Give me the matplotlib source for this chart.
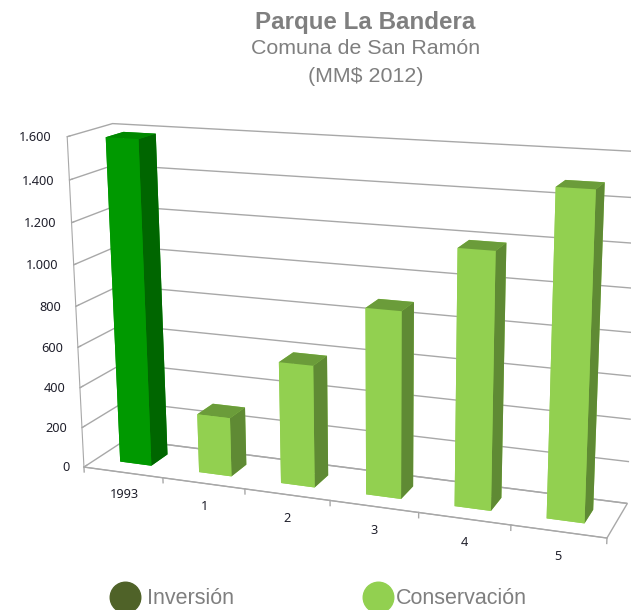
import numpy as np
import matplotlib
matplotlib.use("Agg")
import matplotlib.pyplot as plt
from matplotlib.lines import Line2D

categories = ["1993", "1", "2", "3", "4", "5"]
inversion = [1585, 0, 0, 0, 0, 0]
conservacion = [0, 290, 590, 885, 1190, 1483]
z_ticks = [0, 200, 400, 600, 800, 1000, 1200, 1400, 1600]
z_labels = ["0", "200", "400", "600", "800", "1.000", "1.200", "1.400", "1.600"]

W, H = 631, 610
fig = plt.figure(figsize=(W / 100, H / 100), dpi=100)
ax = fig.add_axes([0, 0, 1, 1], projection="3d")
ax.set_xlim(0, 6, view_margin=0)
ax.set_ylim(0, 1, view_margin=0)
ax.set_zlim(0, 1600, view_margin=0)

# camera matched to the reference's box corners
ax.view_init(elev=15.18645, azim=-68.91894, roll=0.37299)
ax.set_proj_type("persp", focal_length=float(np.exp(-0.75422)))
ax.set_box_aspect((1, float(np.exp(-1.78710)), float(np.exp(-0.46489))))
a, ox, oy = 3514.449, 345.756, 319.080
x0, x1 = ax.viewLim.x0, ax.viewLim.x1
y0, y1 = ax.viewLim.y0, ax.viewLim.y1
ax.set_position([(ox + x0 * a) / W, (H - oy + y0 * a) / H, a * (x1 - x0) / W, a * (y1 - y0) / H])
ax.patch.set_alpha(0)

GRID = "#A8A8A8"
for axis in (ax.xaxis, ax.yaxis, ax.zaxis):
    axis.set_pane_color((1, 1, 1, 1))
    axis.pane.set_edgecolor((1, 1, 1, 0))
    axis._axinfo["tick"]["inward_factor"] = 0
    axis._axinfo["tick"]["outward_factor"] = 0
    axis._axinfo["grid"]["linewidth"] = 0
ax.zaxis.pane.set_edgecolor(GRID)
ax.zaxis.pane.set_linewidth(1)
ax.zaxis._axinfo["grid"].update(color=GRID, linewidth=1.0, linestyle="-")
ax.zaxis._axinfo["tick"]["outward_factor"] = 0.8
ax.xaxis.line.set_color(GRID)
ax.zaxis.line.set_color(GRID)
ax.yaxis.line.set_color((0, 0, 0, 0))
ax.set_yticks([])
ax.set_xticks(range(7), [""] * 7)
tickfont = dict(family="Noto Sans", fontsize=9.2, color="#20202c")
ax.set_zticks(z_ticks, z_labels, ha="right", va="center_baseline", **tickfont)
ax.zaxis.set_ticks_position("lower")
ax.tick_params(axis="z", pad=-1, color=GRID, width=1)
ax.grid(True)

for i in range(7):
    ax.plot([i, i], [0, 0], [0, -25], color=GRID, lw=1)

for i, cat in enumerate(categories):
    ax.text(i + 0.5, 0, -115, cat, ha="center", va="center", **tickfont)

BAR_X, BAR_W, BAR_Y, BAR_D = 0.30, 0.40, 0.30, 0.40
styles_dark = ["#009900", "#008800", "#009900", "#009900", "#009900", "#006600"]
styles_light = ["#92D050", "#6B9C3A", "#92D050", "#92D050", "#92D050", "#5F8A34"]
for i, (u, v) in enumerate(zip(inversion, conservacion)):
    if u:
        ax.bar3d(i + BAR_X, BAR_Y, 0, BAR_W, BAR_D, u, color=styles_dark, shade=False)
    if v:
        ax.bar3d(i + BAR_X, BAR_Y, 0, BAR_W, BAR_D, v, color=styles_light, shade=False)

TITLE = "#7F7F7F"
fig.text(365 / W, 1 - 22 / H, "Parque La Bandera", family="Liberation Sans", weight="bold",
         fontsize=17.4, color=TITLE, ha="center", va="center")
fig.text(365.5 / W, 1 - 48 / H, "Comuna de San Ramón", family="Liberation Sans",
         fontsize=15.4, color=TITLE, ha="center", va="center")
fig.text(366 / W, 1 - 76 / H, "(MM$ 2012)", family="Liberation Sans",
         fontsize=15.4, color=TITLE, ha="center", va="center")

legend_font = dict(family="Liberation Sans", size=15.5)
fig.legend([Line2D([], [], ls="", marker="o", ms=22, color="#4F6228")], ["Inversión"],
           frameon=False, loc="center left", bbox_to_anchor=(89 / W, 1 - 599 / H),
           prop=legend_font, labelcolor=TITLE, handletextpad=0.3, handlelength=1.5)
fig.legend([Line2D([], [], ls="", marker="o", ms=22, color="#92D050")], ["Conservación"],
           frameon=False, loc="center left", bbox_to_anchor=(342 / W, 1 - 599 / H),
           prop=legend_font, labelcolor=TITLE, handletextpad=0.1, handlelength=1.5)

fig.savefig("out.png", dpi=100)
